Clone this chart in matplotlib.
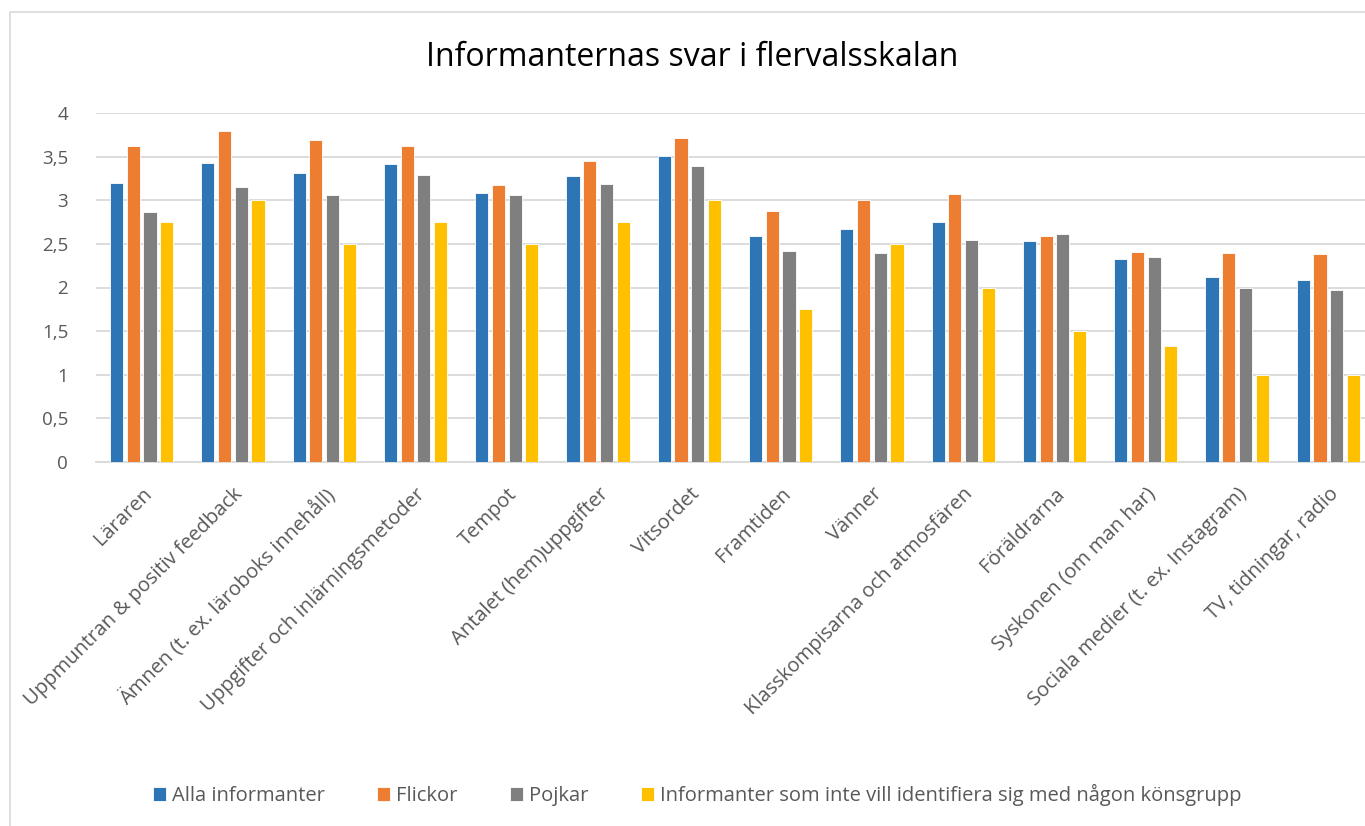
import matplotlib
matplotlib.use("Agg")
import matplotlib.pyplot as plt
import numpy as np
from matplotlib.patches import Rectangle

categories = ["Läraren", "Uppmuntran & positiv feedback", "Ämnen (t. ex. läroboks innehåll)",
              "Uppgifter och inlärningsmetoder", "Tempot", "Antalet (hem)uppgifter", "Vitsordet",
              "Framtiden", "Vänner", "Klasskompisarna och atmosfären", "Föräldrarna",
              "Syskonen (om man har)", "Sociala medier (t. ex. Instagram)", "TV, tidningar, radio"]
alla = [3.20, 3.43, 3.31, 3.41, 3.08, 3.28, 3.51, 2.59, 2.67, 2.75, 2.53, 2.33, 2.12, 2.09]
flickor = [3.62, 3.79, 3.69, 3.62, 3.17, 3.45, 3.71, 2.88, 3.00, 3.07, 2.59, 2.41, 2.40, 2.38]
pojkar = [2.87, 3.15, 3.06, 3.29, 3.06, 3.19, 3.39, 2.42, 2.39, 2.55, 2.61, 2.35, 2.00, 1.97]
ovriga = [2.75, 3.00, 2.50, 2.75, 2.50, 2.75, 3.00, 1.75, 2.50, 2.00, 1.50, 1.33, 1.00, 1.00]
series_names = ["Alla informanter", "Flickor", "Pojkar",
                "Informanter som inte vill identifiera sig med någon könsgrupp"]
colors = ["#2E75B6", "#ED7D31", "#7F7F7F", "#FFC000"]
yticks = [0, 0.5, 1, 1.5, 2, 2.5, 3, 3.5, 4]
ytick_labels = ["0", "0,5", "1", "1,5", "2", "2,5", "3", "3,5", "4"]

plt.rcParams['font.family'] = ['Open Sans', 'DejaVu Sans']

W, H = 1365, 826
fig = plt.figure(figsize=(W / 100, H / 100), dpi=100)
# axes: x 96 -> 1374, y 113 (4) -> 462 (0)
ax = fig.add_axes([96 / W, 1 - 462 / H, (1374 - 96) / W, (462 - 113) / H])

x = np.arange(len(categories))
pitch = 0.183
bw = 0.145
data = [alla, flickor, pojkar, ovriga]
for i, (vals, c, name) in enumerate(zip(data, colors, series_names)):
    ax.bar(x + (i - 1.5) * pitch, vals, bw, color=c, edgecolor="white", linewidth=0.6,
           label=name, zorder=3)

ax.set_xlim(-0.5, len(categories) - 0.5)
ax.set_ylim(0, 4)
ax.set_yticks(yticks)
ax.set_yticklabels(ytick_labels, fontsize=13.5, color="#595959")
ax.yaxis.grid(True, color="#D9D9D9", linewidth=1.3, zorder=0)
for s in ["top", "right", "left"]:
    ax.spines[s].set_visible(False)
ax.spines["bottom"].set_color("#D9D9D9")
ax.spines["bottom"].set_linewidth(1.3)
ax.tick_params(axis="both", length=0)
ax.tick_params(axis="y", pad=20)
ax.set_xticks(x)
ax.set_xticklabels(categories, rotation=45, ha="right", rotation_mode="anchor",
                   fontsize=14.5, color="#595959")
ax.tick_params(axis="x", pad=16)

fig.text(692 / W, 1 - 57 / H, "Informanternas svar i flervalsskalan", ha="center", va="center",
         fontsize=23, color="#000000")

handles, labels = ax.get_legend_handles_labels()
leg = fig.legend(handles, labels, loc="center", bbox_to_anchor=(697 / W, 1 - 795 / H), ncol=4,
                 frameon=False, fontsize=14.5, handlelength=0.65, handleheight=0.65,
                 columnspacing=2.6, handletextpad=0.3)
for t in leg.get_texts():
    t.set_color("#595959")

fig.patches.append(Rectangle((10 / W, -0.1), 1.2, 1 - 12 / H + 0.1, transform=fig.transFigure,
                             fill=False, edgecolor="#D9D9D9", linewidth=1.2))

fig.savefig("out.png", dpi=100)
